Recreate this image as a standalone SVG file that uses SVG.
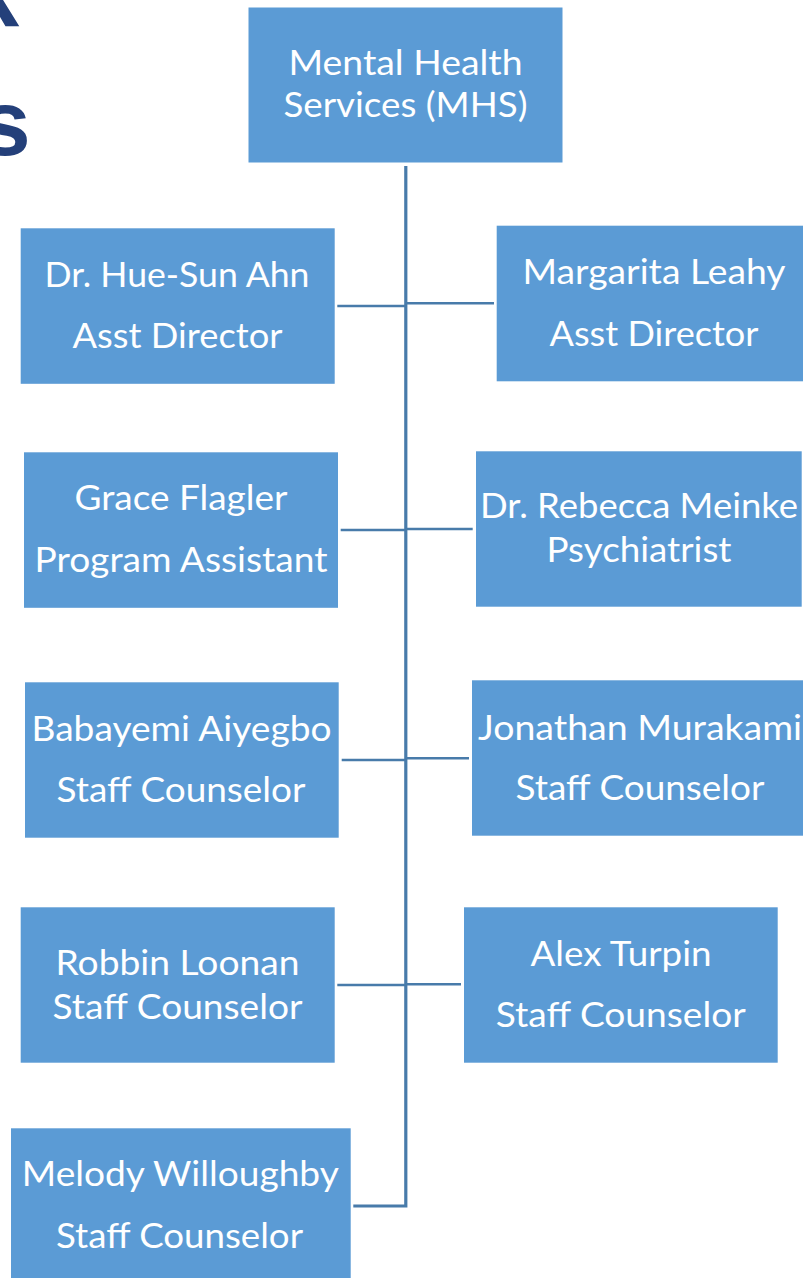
<svg xmlns="http://www.w3.org/2000/svg" width="803" height="1278" viewBox="0 0 803 1278">
<style>
.box{fill:#5B9BD5;}
.lbl{font-family:Lato,"Open Sans","Liberation Sans",sans-serif;font-size:34px;fill:#FFFFFF;text-anchor:middle;}
.conn{stroke:#487BAA;stroke-width:2.5;fill:none;}
.trunk{stroke:#487BAA;stroke-width:3.2;fill:none;}
.title{font-family:"Liberation Sans",Arial,sans-serif;font-weight:bold;font-size:92px;fill:#24407A;}
</style>
<rect width="803" height="1278" fill="#FFFFFF"/>
<g id="title">
<text class="title" x="-32" y="26">k</text>
<text class="title" x="-20.5" y="155">s</text>
</g>
<g id="connectors">
<polyline class="trunk" points="405.8,166 405.8,1206 353.3,1206"/>
<line class="conn" x1="337.3" y1="306" x2="405.8" y2="306"/>
<line class="conn" x1="405.8" y1="303.3" x2="494" y2="303.3"/>
<line class="conn" x1="340.7" y1="530" x2="405.8" y2="530"/>
<line class="conn" x1="405.8" y1="529" x2="472.7" y2="529"/>
<line class="conn" x1="341.7" y1="760" x2="405.8" y2="760"/>
<line class="conn" x1="405.8" y1="758.3" x2="469" y2="758.3"/>
<line class="conn" x1="337.3" y1="985" x2="405.8" y2="985"/>
<line class="conn" x1="405.8" y1="984.3" x2="461" y2="984.3"/>
</g>
<g id="mhs">
<rect class="box" x="248.5" y="7.5" width="314" height="155"/>
<text class="lbl" x="405.5" y="75" textLength="234" lengthAdjust="spacingAndGlyphs">Mental Health</text>
<text class="lbl" x="405.5" y="117" textLength="244" lengthAdjust="spacingAndGlyphs">Services (MHS)</text>
</g>
<g id="ahn">
<rect class="box" x="20.7" y="228.3" width="314" height="155.5"/>
<text class="lbl" x="177" y="287" textLength="265" lengthAdjust="spacingAndGlyphs">Dr. Hue-Sun Ahn</text>
<text class="lbl" x="177.5" y="348" textLength="210" lengthAdjust="spacingAndGlyphs">Asst Director</text>
</g>
<g id="leahy">
<rect class="box" x="496.7" y="225.7" width="320" height="155.6"/>
<text class="lbl" x="654" y="284" textLength="263" lengthAdjust="spacingAndGlyphs">Margarita Leahy</text>
<text class="lbl" x="654" y="346" textLength="209" lengthAdjust="spacingAndGlyphs">Asst Director</text>
</g>
<g id="flagler">
<rect class="box" x="24" y="452.3" width="314" height="155.5"/>
<text class="lbl" x="181" y="510" textLength="213" lengthAdjust="spacingAndGlyphs">Grace Flagler</text>
<text class="lbl" x="181" y="572" textLength="293" lengthAdjust="spacingAndGlyphs">Program Assistant</text>
</g>
<g id="meinke">
<rect class="box" x="476" y="451.3" width="325.7" height="155.4"/>
<text class="lbl" x="639" y="518" textLength="318" lengthAdjust="spacingAndGlyphs">Dr. Rebecca Meinke</text>
<text class="lbl" x="639" y="561.5" textLength="185" lengthAdjust="spacingAndGlyphs">Psychiatrist</text>
</g>
<g id="aiyegbo">
<rect class="box" x="25" y="682.3" width="313.7" height="155.4"/>
<text class="lbl" x="181.5" y="741" textLength="300" lengthAdjust="spacingAndGlyphs">Babayemi Aiyegbo</text>
<text class="lbl" x="181" y="802" textLength="249" lengthAdjust="spacingAndGlyphs">Staff Counselor</text>
</g>
<g id="murakami">
<rect class="box" x="472" y="680.3" width="340" height="155.4"/>
<text class="lbl" x="640" y="739.5" textLength="324" lengthAdjust="spacingAndGlyphs">Jonathan Murakami</text>
<text class="lbl" x="640" y="799.5" textLength="249" lengthAdjust="spacingAndGlyphs">Staff Counselor</text>
</g>
<g id="loonan">
<rect class="box" x="20.7" y="907.3" width="314" height="155.4"/>
<text class="lbl" x="177.5" y="975" textLength="244" lengthAdjust="spacingAndGlyphs">Robbin Loonan</text>
<text class="lbl" x="177.5" y="1018.5" textLength="250" lengthAdjust="spacingAndGlyphs">Staff Counselor</text>
</g>
<g id="turpin">
<rect class="box" x="464" y="907.3" width="313.7" height="155.4"/>
<text class="lbl" x="621" y="966" textLength="181" lengthAdjust="spacingAndGlyphs">Alex Turpin</text>
<text class="lbl" x="620.7" y="1027" textLength="250" lengthAdjust="spacingAndGlyphs">Staff Counselor</text>
</g>
<g id="willoughby">
<rect class="box" x="11" y="1128.3" width="339.7" height="160"/>
<text class="lbl" x="180.3" y="1186" textLength="317" lengthAdjust="spacingAndGlyphs">Melody Willoughby</text>
<text class="lbl" x="179.5" y="1247.5" textLength="247" lengthAdjust="spacingAndGlyphs">Staff Counselor</text>
</g>
</svg>
